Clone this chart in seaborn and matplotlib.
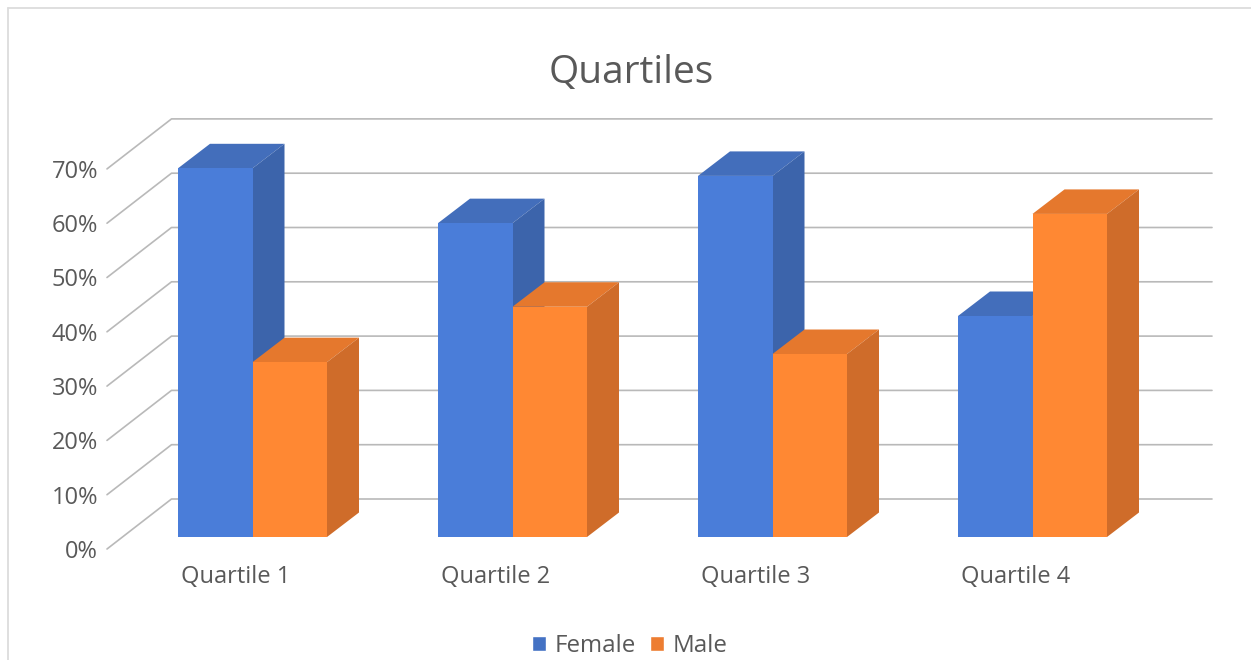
import matplotlib
matplotlib.use("Agg")
import matplotlib.pyplot as plt
from matplotlib.lines import Line2D
from matplotlib.patches import Patch, Polygon
import pandas as pd
import seaborn as sns

# Values
quartiles = ["Quartile 1", "Quartile 2", "Quartile 3", "Quartile 4"]
female = [67.9, 57.8, 66.5, 40.7]
male = [32.2, 42.4, 33.7, 59.5]
tick_values = [0, 10, 20, 30, 40, 50, 60, 70]
tick_labels = ["0%", "10%", "20%", "30%", "40%", "50%", "60%", "70%"]

df = pd.DataFrame({
    "quartile": quartiles * 2,
    "share": female + male,
    "gender": ["Female"] * 4 + ["Male"] * 4,
})

W, H = 1251, 660
PX_X = 1 / 260      # one pixel in category units
PX_Y = 10 / 54.3    # one pixel in percent units
text_col = "#595959"
grid_col = "#B9B9B9"

sns.set_theme(style="white")
plt.rcParams["font.family"] = ["Open Sans", "DejaVu Sans"]

fig = plt.figure(figsize=(W / 100, H / 100), dpi=100)
ax = fig.add_axes([107 / W, 1 - 549 / H, (1212 - 107) / W, (549 - 119) / H])

front = ["#4A7DD9", "#FF8833"]
top = ["#436EBB", "#E5782D"]
side = ["#3C64AB", "#CF6C2A"]
legend_col = ["#4472C4", "#ED7D31"]

sns.barplot(data=df, x="quartile", y="share", hue="gender", palette=front,
            saturation=1, width=149 / 260, gap=0, legend=False, ax=ax, zorder=4,
            linewidth=0, edgecolor="none")

ax.set_xlim((107.5 - 253) * PX_X, (1212.5 - 253) * PX_X)
ax.set_ylim(-12 * PX_Y, (537 - 119) * PX_Y)
sns.despine(ax=ax, left=True, bottom=True)
ax.set_xlabel("")
ax.set_ylabel("")

# Walls: diagonal on the left, then the back gridline
wall_x = (172 - 253) * PX_X
back_dy = 38 * PX_Y
front_dy = -12 * PX_Y
for v in tick_values:
    ax.plot([ax.get_xlim()[0], wall_x, ax.get_xlim()[1]],
            [v + front_dy, v + back_dy, v + back_dy],
            color=grid_col, lw=1.2, zorder=1, clip_on=False)

# Depth faces built from the bars seaborn drew
dx = 32 * PX_X
dy = 24.5 * PX_Y
for j, cont in enumerate(ax.containers):
    for bar in cont:
        x0, x1 = bar.get_x(), bar.get_x() + bar.get_width()
        h = bar.get_height()
        bar.set_zorder(4 + 2 * j)
        ax.add_patch(Polygon([(x0, h), (x1, h), (x1 + dx, h + dy), (x0 + dx, h + dy)],
                             facecolor=top[j], edgecolor="none", zorder=3 + 2 * j))
        ax.add_patch(Polygon([(x1, 0), (x1 + dx, dy), (x1 + dx, h + dy), (x1, h)],
                             facecolor=side[j], edgecolor="none", zorder=3 + 2 * j))

ax.set_yticks([v + front_dy for v in tick_values], tick_labels)
ax.set_xticks([i - 17 * PX_X for i in range(len(quartiles))], quartiles)
ax.tick_params(axis="y", length=0, pad=6.5, labelsize=17, labelcolor=text_col)
ax.tick_params(axis="x", length=0, pad=11.5, labelsize=17, labelcolor=text_col)

fig.text(631 / W, 1 - 73 / H, "Quartiles", fontsize=28, color=text_col,
         ha="center", va="center")

handles = [Patch(facecolor=legend_col[0], label="Female"),
           Patch(facecolor=legend_col[1], label="Male")]
fig.legend(handles=handles, loc="center", bbox_to_anchor=(630 / W, 1 - 646 / H),
           ncol=2, frameon=False, fontsize=17.4, labelcolor=text_col,
           handlelength=0.58, handleheight=0.58, handletextpad=0.35, columnspacing=0.6,
           borderpad=0, borderaxespad=0)

# Chart area border, only left and top show
border = "#DCDCDC"
fig.add_artist(Line2D([8 / W, 8 / W], [0, 1 - 8 / H], color=border, lw=1.3))
fig.add_artist(Line2D([8 / W, 1], [1 - 8 / H, 1 - 8 / H], color=border, lw=1.3))

fig.savefig("out.png", dpi=100)
